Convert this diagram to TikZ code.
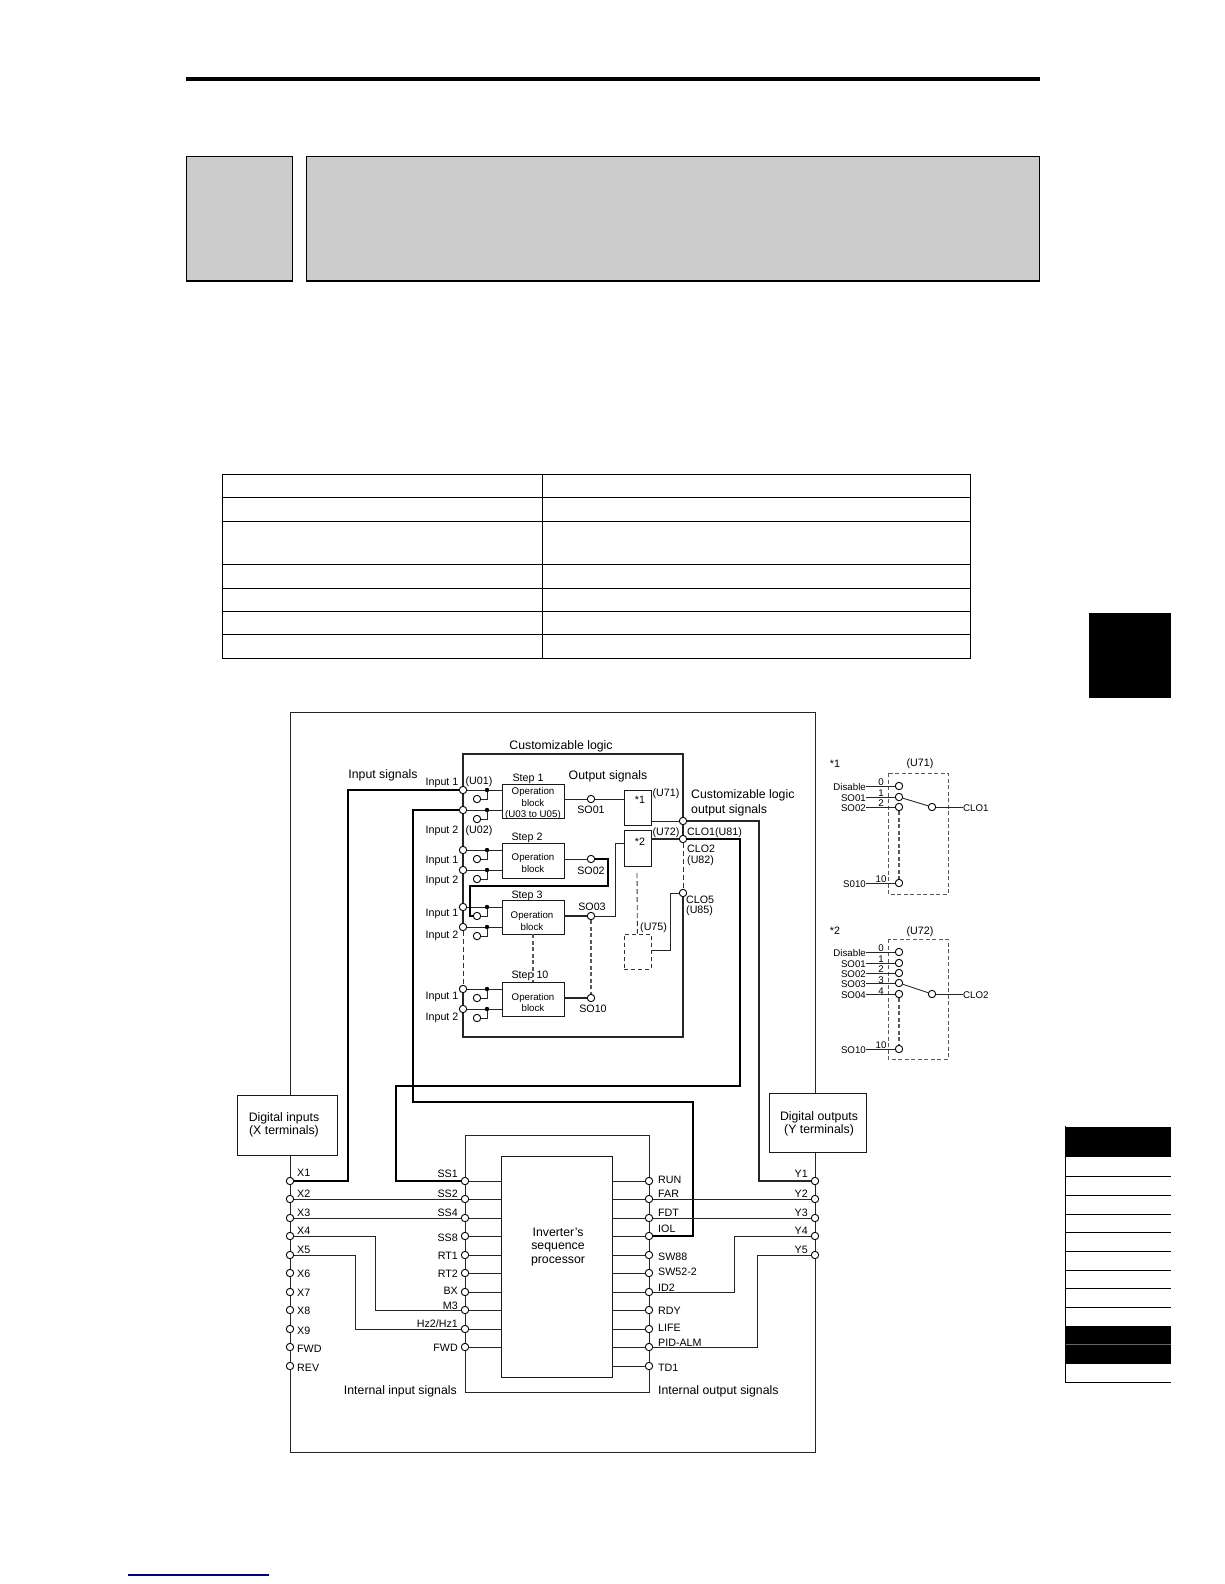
\documentclass[tikz,border=0pt]{standalone}
\usepackage{fontspec}
\usepackage{xcolor}
\setmainfont{Liberation Sans}
\usetikzlibrary{positioning}

\newcommand{\bigtxt}{\fontsize{12.3}{13.4}\selectfont}
\newcommand{\midtxt}{\fontsize{10.7}{12}\selectfont}
\newcommand{\opstxt}{\fontsize{9.7}{11.6}\selectfont}

\begin{document}
\begin{tikzpicture}[x=1pt, y=-1pt,
	wire/.style={line width=.9pt, black!85},
	heavy/.style={line width=2.2pt, black},
	longdash/.style={line width=.9pt, black!80, dash pattern=on 5pt off 3pt},
	heavydash/.style={line width=1.4pt, black!65, dash pattern=on 4pt off 2.5pt},
	term/.style={circle, draw=black, line width=.9pt, fill=white, inner sep=0pt, minimum size=7.4pt},
	dot/.style={circle, fill=black, inner sep=0pt, minimum size=4.4pt},
	blockbox/.style={draw=black!90, line width=.9pt, fill=white, inner sep=0pt},
	big/.style={inner sep=0pt, align=center, yshift=-1pt, font=\bigtxt},
	mid/.style={inner sep=0pt, yshift=-1pt, font=\midtxt},
	ops/.style={inner sep=0pt, align=center, yshift=-1pt, font=\opstxt},
	greybox/.style={draw=black, line width=1pt, fill=black!20}]
	\useasboundingbox (0,0) rectangle (1224,1584);

	% page furniture
	\fill (186,77) rectangle (1040,81);
	\draw[greybox] (186,156.5) rectangle (292,281);
	\draw[greybox] (306,156.5) rectangle (1039.5,281);
	\draw[line width=2.2pt] (186,281) -- (292,281);
	\draw[line width=2.2pt] (306,281) -- (1039.5,281);

	% table
	\draw[line width=.8pt] (222,474) rectangle (970,658);
	\draw[line width=.8pt] (542,474) -- (542,658);
	\foreach \y in {497,521,564,588,611,634}
		\draw[line width=.8pt] (222,\y) -- (970,\y);

	% side tabs
	\fill (1089,613) rectangle (1171,698);
	\fill (1065,1127) rectangle (1171,1157);
	\fill (1065,1326) rectangle (1171,1364);
	\draw[black!60] (1065,1344) -- (1171,1344);
	\draw[line width=.9pt] (1065,1126) -- (1065,1382) -- (1171,1382);
	\foreach \y in {1176,1195,1214,1232,1251,1270,1288,1307}
		\draw[line width=.9pt] (1065,\y) -- (1171,\y);

	% bottom rule
	\draw[line width=1.2pt, blue!55!black] (128,1575) -- (269,1575);

	% terminals of the outer frame
	\foreach \name/\y/\txt/\ly in {x1/1181/X1/1172, x2/1199/X2/1193, x3/1218/X3/1212, x4/1236/X4/1230, x5/1255/X5/1249, x6/1273/X6/1273, x7/1292/X7/1292, x8/1310/X8/1310, x9/1329/X9/1330, xfwd/1347/FWD/1348, xrev/1366/REV/1367} {
		\node[term] (\name) at (290,\y) {};
		\node[mid, anchor=west] (\name l) at (297,\ly) {\txt};
	}
	\foreach \name/\y/\txt/\ly in {y1/1181/Y1/1173, y2/1199/Y2/1193, y3/1218/Y3/1212, y4/1236/Y4/1230, y5/1255/Y5/1249} {
		\node[term] (\name) at (815,\y) {};
		\node[mid, anchor=east] (\name l) at (808,\ly) {\txt};
	}

	% inverter terminals
	\foreach \name/\y/\txt/\ly in {ss1/1181/SS1/1173, ss2/1199/SS2/1193, ss4/1218/SS4/1212, ss8/1236/SS8/1237, rt1/1255/RT1/1255, rt2/1273/RT2/1273, bx/1292/BX/1290, m3/1310/M3/1305, hz/1329/Hz2\slash Hz1/1323, ifwd/1347/FWD/1347} {
		\node[term] (\name) at (465,\y) {};
		\node[mid, anchor=east] (\name l) at (458,\ly) {\txt};
	}
	\foreach \name/\y/\txt/\ly in {run/1181/RUN/1179, far/1199/FAR/1193, fdt/1218/FDT/1212, iol/1236/IOL/1228, sw88/1255/SW88/1256, sw52/1273/SW52-2/1271, id2/1292/ID2/1287, rdy/1310/RDY/1310, life/1329/LIFE/1327, pid/1347/PID-ALM/1342, td1/1366/TD1/1367} {
		\node[term] (\name) at (649,\y) {};
		\node[mid, anchor=west] (\name l) at (658,\ly) {\txt};
	}

	% outer frame
	\coordinate (frameTL) at (290,712);
	\coordinate (frameTR) at (815,712);
	\coordinate (frameBR) at (815,1452);
	\coordinate (frameBL) at (290,1452);
	\draw[wire] (y1) -- (frameTR) -- (frameTL) -- (x1) -- (x2) -- (x3) -- (x4) -- (x5) -- (x6) -- (x7) -- (x8) -- (x9) -- (xfwd) -- (xrev) -- (frameBL) -- (frameBR) -- (y5) -- (y4) -- (y3) -- (y2) -- (y1);

	% inverter block
	\coordinate (invTL) at (465,1135);
	\coordinate (invTR) at (649,1135);
	\coordinate (invBR) at (649,1392);
	\coordinate (invBL) at (465,1392);
	\draw[wire] (ss1) -- (invTL) -- (invTR) -- (run) -- (far) -- (fdt) -- (iol) -- (sw88) -- (sw52) -- (id2) -- (rdy) -- (life) -- (pid) -- (td1) -- (invBR) -- (invBL) -- (ifwd) -- (hz) -- (m3) -- (bx) -- (rt2) -- (rt1) -- (ss8) -- (ss4) -- (ss2) -- (ss1);
	\node[blockbox, minimum width=111pt, minimum height=221pt] (proc) at (556.5,1266.5) {};
	\node[big] (proctxt) at (558,1246) {Inverter's\\sequence\\processor};
	\foreach \name in {ss1,ss2,ss4,ss8,rt1,rt2,bx,m3,hz,ifwd}
		\draw[wire] (\name) -- (\name -| proc.west);
	\foreach \name in {run,far,fdt,iol,sw88,sw52,id2,rdy,life,pid,td1}
		\draw[wire] (\name) -- (\name -| proc.east);
	\node[big, anchor=east] (inlabel) at (457,1390) {Internal input signals};
	\node[big, anchor=west] (outlabel) at (658,1390) {Internal output signals};

	% terminal boxes
	\node[blockbox, minimum width=100pt, minimum height=60pt] (digin) at (287,1125) {};
	\node[big] (digintxt) at (284,1124) {Digital inputs\\(X terminals)};
	\node[blockbox, minimum width=97pt, minimum height=59pt] (digout) at (817.5,1122.5) {};
	\node[big] (digouttxt) at (819,1123) {Digital outputs\\(Y terminals)};

	% logic terminals
	\foreach \n/\tv in {11/790, 12/810, 21/850, 22/870, 31/907, 32/927, 101/989, 102/1009}
		\node[term] (in\n) at (463,\tv) {};
	\node[term] (clo1) at (683,821) {};
	\node[term] (clo2) at (683,839) {};
	\node[term] (clo5) at (683,893) {};
	\coordinate (logicTL) at (463,754);
	\coordinate (logicTR) at (683,754);
	\coordinate (logicBR) at (683,1037);
	\coordinate (logicBL) at (463,1037);
	\draw[wire, line width=1.1pt] (in32) -- (in31) -- (in22) -- (in21) -- (in12) -- (in11) -- (logicTL) -- (logicTR) -- (clo1) -- (clo2);
	\draw[wire, line width=1.1pt] (clo5) -- (logicBR) -- (logicBL) -- (in102) -- (in101);
	\draw[longdash] (in32) -- (in101);
	\draw[longdash] (clo2) -- (clo5);
	\node[big] (logictitle) at (561,745) {Customizable logic};
	\node[big] (inputs) at (383,774) {Input signals};
	\node[big] (outputs) at (608,775) {Output signals};

	% steps
	\node[blockbox, minimum width=62pt, minimum height=34pt] (step1) at (533,801) {};
	\node[blockbox, minimum width=62pt, minimum height=35pt] (step2) at (533,860.5) {};
	\node[blockbox, minimum width=62pt, minimum height=34pt] (step3) at (533,917) {};
	\node[blockbox, minimum width=62pt, minimum height=34pt] (step10) at (533,999) {};
	\node[ops] (op1) at (533,802.5) {Operation\\block\\(U03 to U05)};
	\node[ops] (op2) at (533,862) {Operation\\block};
	\node[ops] (op3) at (532,920) {Operation\\block};
	\node[ops] (op10) at (533,1001.5) {Operation\\block};
	\node[mid] (step1l) at (528,778) {Step 1};
	\node[mid] (step2l) at (527,837) {Step 2};
	\node[mid] (step3l) at (527,895) {Step 3};
	\node[mid] (step10l) at (530,975) {Step 10};
	\draw[heavydash] (step3) -- (step10);

	% contacts on the inputs
	\foreach \n/\tv/\cv/\blk in {11/790/799/step1, 12/810/819/step1, 21/850/859/step2, 22/870/879/step2, 31/907/916/step3, 32/927/936/step3, 101/989/998/step10, 102/1009/1018/step10} {
		\node[dot] (dot\n) at (487,\tv) {};
		\node[term] (con\n) at (477,\cv) {};
		\draw[wire] (in\n) -- (dot\n) -- (dot\n -| \blk.west);
		\draw[wire] (con\n) -| (dot\n);
	}

	% labels of the inputs
	\foreach \name/\y/\txt in {a/782/Input 1, b/830/Input 2, c/860/Input 1, d/880/Input 2, e/913/Input 1, f/935/Input 2, g/996/Input 1, h/1017/Input 2}
		\node[mid] (lab\name) at (442,\y) {\txt};
	\node[mid] (u01) at (479,781) {(U01)};
	\node[mid] (u02) at (479,830) {(U02)};

	% output signals
	\node[term] (so1) at (591,799) {};
	\node[term] (so2) at (591,859) {};
	\node[term] (so3) at (591,916) {};
	\node[term] (so10) at (591,998) {};
	\node[mid] (so1l) at (591,809) {SO01};
	\node[mid] (so2l) at (591,870) {SO02};
	\node[mid] (so3l) at (592,906) {SO03};
	\node[mid] (so10l) at (593,1008) {SO10};
	\draw[wire] (so1 -| step1.east) -- (so1);
	\draw[wire] (so2 -| step2.east) -- (so2);
	\draw[wire, line width=1.3pt] (so3 -| step3.east) -- (so3);
	\draw[wire, line width=1.3pt] (so10 -| step10.east) -- (so10);
	\draw[heavydash] (so3) -- (so10);
	\coordinate (bendA) at (608,859);
	\coordinate (bendB) at (608,886);
	\coordinate (bendC) at (470,886);
	\coordinate (bendD) at (470,916);
	\draw[heavy] (so2) -- (bendA) -- (bendB) -- (bendC) -- (bendD) -- (con31);

	% selectors
	\node[blockbox, minimum width=27pt, minimum height=35pt] (sel1) at (637.5,807.5) {};
	\node[blockbox, minimum width=27pt, minimum height=36pt] (sel2) at (637.5,848) {};
	\node[mid] (sel1l) at (640,799) {*1};
	\node[mid] (sel2l) at (640,841) {*2};
	\node[draw=black!80, line width=.9pt, dash pattern=on 4pt off 3pt, minimum width=27pt, minimum height=35pt, inner sep=0pt] (sel5) at (637.5,951.5) {};
	\draw[wire] (so1) -- (so1 -| sel1.west);
	\coordinate (so3a) at (615,916);
	\coordinate (so3b) at (615,843);
	\draw[wire] (so3) -- (so3a) -- (so3b) -- (so3b -| sel2.west);
	\draw[wire] (clo1 -| sel1.east) -- (clo1);
	\draw[wire, line width=1.6pt] (clo2 -| sel2.east) -- (clo2);
	\coordinate (sel5a) at (670,950);
	\coordinate (sel5b) at (670,893);
	\draw[wire] (sel5a -| sel5.east) -- (sel5a) -- (sel5b) -- (clo5);
	\draw[longdash] (637,873) -- (sel5);
	\node[mid] (u71) at (666,793) {(U71)};
	\node[mid] (u72) at (666,832) {(U72)};
	\node[mid, anchor=west] (u75) at (640,927) {(U75)};
	\node[big, anchor=west] (clotitle) at (691,794) {Customizable logic};
	\node[big, anchor=west] (clotitleb) at (691,809) {output signals};
	\node[mid, anchor=west] (clo1l) at (687,832) {CLO1(U81)};
	\node[mid, anchor=west] (clo2l) at (687,848) {CLO2};
	\node[mid, anchor=west] (u82) at (687,860) {(U82)};
	\node[mid, anchor=west] (clo5l) at (686,899) {CLO5};
	\node[mid, anchor=west] (u85) at (686,910) {(U85)};

	% thick routes
	\coordinate (xwireA) at (348,790);
	\coordinate (xwireB) at (348,1181);
	\draw[heavy] (in11) -- (xwireA) -- (xwireB) -- (x1);
	\coordinate (iolA) at (413,810);
	\coordinate (iolB) at (413,1102);
	\coordinate (iolC) at (693,1102);
	\coordinate (iolD) at (693,1236);
	\draw[heavy] (in12) -- (iolA) -- (iolB) -- (iolC) -- (iolD) -- (iol);
	\coordinate (ssA) at (396,1181);
	\coordinate (ssB) at (396,1086);
	\coordinate (ssC) at (740,1086);
	\coordinate (ssD) at (740,839);
	\draw[heavy] (ss1) -- (ssA) -- (ssB) -- (ssC) -- (ssD) -- (clo2);
	\coordinate (yA) at (759,821);
	\coordinate (yB) at (759,1181);
	\draw[wire, line width=1.8pt] (clo1) -- (yA) -- (yB) -- (y1);

	% thin routes
	\draw[wire] (x2) -- (ss2);
	\draw[wire] (x3) -- (ss4);
	\draw[wire] (far) -- (y2);
	\draw[wire] (fdt) -- (y3);
	\coordinate (x4a) at (375,1236);
	\coordinate (x4b) at (375,1310);
	\draw[wire] (x4) -- (x4a) -- (x4b) -- (m3);
	\coordinate (x5a) at (355,1255);
	\coordinate (x5b) at (355,1329);
	\draw[wire] (x5) -- (x5a) -- (x5b) -- (hz);
	\coordinate (y4a) at (734,1292);
	\coordinate (y4b) at (734,1236);
	\draw[wire] (id2) -- (y4a) -- (y4b) -- (y4);
	\coordinate (y5a) at (757,1347);
	\coordinate (y5b) at (757,1255);
	\draw[wire] (pid) -- (y5a) -- (y5b) -- (y5);

	% detail *1
	\draw[heavydash, line width=1pt] (888,773) rectangle (948,894);
	\node[mid] (star1) at (835,763) {*1};
	\node[mid] (u71b) at (920,763) {(U71)};
	\node[term] (outA) at (932,807) {};
	\foreach \name/\y/\txt/\num/\ny in {a0/786/Disable/0/781, a1/797/SO01/1/792, a2/807/SO02/2/802, a10/883/S010/10/878} {
		\node[term] (\name) at (899,\y) {};
		\node[ops, anchor=east] (\name l) at (866,\y) {\txt};
		\node[ops] (\name n) at (881,\ny) {\num};
		\draw[wire] (\name l.east |- \name) -- (\name);
	}
	\draw[wire] (a1) -- (outA);
	\draw[heavydash] (a2) -- (a10);
	\node[ops, anchor=west] (cloA) at (963,807) {CLO1};
	\draw[wire] (outA) -- (cloA.west |- outA);

	% detail *2
	\draw[heavydash, line width=1pt] (888,939) rectangle (948,1059);
	\node[mid] (star2) at (835,930) {*2};
	\node[mid] (u72b) at (920,931) {(U72)};
	\node[term] (outB) at (932,994) {};
	\foreach \name/\y/\txt/\num/\ny in {b0/952/Disable/0/947, b1/963/SO01/1/958, b2/973/SO02/2/968, b3/983/SO03/3/979, b4/994/SO04/4/990, b10/1049/SO10/10/1044} {
		\node[term] (\name) at (899,\y) {};
		\node[ops, anchor=east] (\name l) at (866,\y) {\txt};
		\node[ops] (\name n) at (881,\ny) {\num};
		\draw[wire] (\name l.east |- \name) -- (\name);
	}
	\draw[wire] (b3) -- (outB);
	\draw[heavydash] (b4) -- (b10);
	\node[ops, anchor=west] (cloB) at (963,994) {CLO2};
	\draw[wire] (outB) -- (cloB.west |- outB);
\end{tikzpicture}
\end{document}
